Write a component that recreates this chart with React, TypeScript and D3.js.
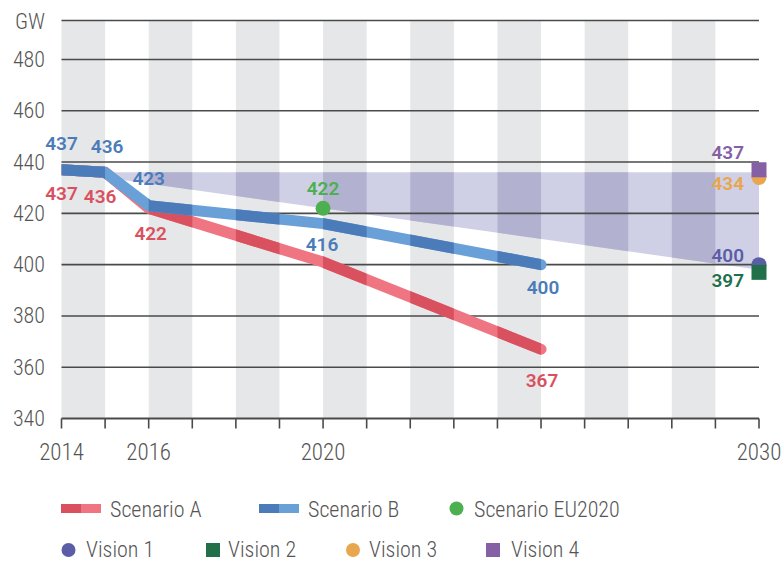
import React from "react";
import * as d3 from "d3";

// years on the axis and the data
const axisYears = d3.range(2014, 2031);
const yTicks = [340, 360, 380, 400, 420, 440, 460, 480];
const yearLabels = [2014, 2016, 2020, 2030];

const scenYears = [2014, 2015, 2016, 2020, 2025];
const scenarioA = [437, 436, 422, 401, 367];
const scenarioB = [437, 436, 423, 416, 400];
const eu2020 = { year: 2020, value: 422 };

// range of the visions for 2030 (shaded wedge)
const bandYears = [2015, 2030];
const bandTop = [436, 436];
const bandBottom = [434, 398];

const visionNames = ["Vision 1", "Vision 2", "Vision 3", "Vision 4"];
const vision2030 = [400, 397, 434, 437];

const W = 781;
const H = 562;
const FONT = "'Liberation Sans Narrow', 'Arial Narrow', 'Roboto Condensed', Roboto, sans-serif";
const LABEL_FONT = "Roboto, 'Liberation Sans', sans-serif";

const C = {
  redL: "#ee7581",
  redD: "#d9515f",
  blueL: "#6aa0d8",
  blueD: "#4b7cb9",
  bandL: "#cfd0e6",
  bandD: "#b2b2d0",
  gray: "#e6e7e8",
  green: "#4caf50",
  v1: "#5b5ea6",
  v2: "#21704a",
  v3: "#e8a64e",
  v4: "#8660a5",
  text: "#555555",
  grid: "#4a4a4a",
};

export default function App() {
  const x = d3.scaleLinear().domain([2014, 2030]).range([61.5, 759]);
  const y = d3.scaleLinear().domain([340, 480]).range([418.5, 59.5]);
  const top = 20.5;
  const bottom = y(340);

  const line = d3
    .line<number>()
    .x((_, i) => x(scenYears[i]))
    .y((d) => y(d));

  const area = d3
    .area<number>()
    .x((d) => x(d))
    .y0((_, i) => y(bandBottom[i]))
    .y1((_, i) => y(bandTop[i]));

  const grayYears = axisYears.filter((yr, i) => i % 2 === 0 && yr < 2030);

  const labelsA = [
    { i: 0, dx: 0, dy: 30 },
    { i: 1, dx: -5, dy: 31 },
    { i: 2, dx: 2, dy: 32 },
    { i: 4, dx: 1, dy: 38 },
  ];
  const labelsB = [
    { i: 0, dx: 0, dy: -20 },
    { i: 1, dx: 2, dy: -19 },
    { i: 2, dx: 0, dy: -21 },
    { i: 3, dx: -1, dy: 27 },
    { i: 4, dx: 2, dy: 29 },
  ];
  // vision label offsets from its marker
  const visionLabelDy = [-3, 15, 13, -11];
  const visionColors = [C.v1, C.v2, C.v3, C.v4];
  const visionShape = ["circle", "square", "circle", "square"];

  const drawLine = (vals: number[], light: string, dark: string) => (
    <g clipPath="url(#plotClip)">
      <path d={line(vals) || ""} fill="none" stroke={light} strokeWidth={11} strokeLinecap="round" strokeLinejoin="round" />
      <g clipPath="url(#bandClip)">
        <path d={line(vals) || ""} fill="none" stroke={dark} strokeWidth={11} strokeLinecap="round" strokeLinejoin="round" />
      </g>
    </g>
  );

  const marker = (shape: string, cx: number, cy: number, color: string, key?: any) =>
    shape === "circle" ? (
      <circle key={key} cx={cx} cy={cy} r={7.5} fill={color} />
    ) : (
      <rect key={key} x={cx - 7.5} y={cy - 7.5} width={15} height={15} fill={color} />
    );

  const legend1 = [
    { name: "Scenario A", kind: "line", light: C.redL, dark: C.redD, x: 61, tx: 110 },
    { name: "Scenario B", kind: "line", light: C.blueL, dark: C.blueD, x: 259, tx: 308 },
    { name: "Scenario EU2020", kind: "circle", light: C.green, dark: C.green, x: 456.5, tx: 474 },
  ];
  const legend2X = [68.5, 213, 353, 493];
  const legend2TX = [86, 228, 369, 511];

  return (
    <svg width={W} height={H} style={{ position: "absolute", left: 0, top: 0, background: "#fff" }}>
      <defs>
        <clipPath id="plotClip">
          <rect x={x(2014)} y={0} width={x(2030) - x(2014) + 10} height={bottom} />
        </clipPath>
        <clipPath id="bandClip">
          {grayYears.map((yr) => (
            <rect key={yr} x={x(yr)} y={top} width={x(yr + 1) - x(yr)} height={bottom - top} />
          ))}
        </clipPath>
      </defs>

      {/* alternating background bands */}
      {grayYears.map((yr) => (
        <rect key={yr} x={x(yr)} y={top} width={x(yr + 1) - x(yr)} height={bottom - top} fill={C.gray} />
      ))}

      {/* range of the visions */}
      <path d={area(bandYears) || ""} fill={C.bandL} />
      <g clipPath="url(#bandClip)">
        <path d={area(bandYears) || ""} fill={C.bandD} />
      </g>

      {/* grid */}
      {yTicks.slice(1).map((t) => (
        <line key={t} x1={x(2014)} x2={x(2030)} y1={y(t)} y2={y(t)} stroke={C.grid} strokeWidth={1.6} />
      ))}
      <line x1={x(2014)} x2={x(2030)} y1={top} y2={top} stroke={C.grid} strokeWidth={1.6} />
      <line x1={x(2014)} x2={x(2030)} y1={bottom} y2={bottom} stroke={C.grid} strokeWidth={1.8} />
      {axisYears.map((yr) => (
        <line key={yr} x1={x(yr)} x2={x(yr)} y1={bottom} y2={bottom + 10} stroke={C.grid} strokeWidth={1.6} />
      ))}

      {/* y labels */}
      <g fontFamily={FONT} fontWeight={300} fill={C.text}>
        {yTicks.map((t) => (
          <text key={t} x={45} y={y(t) + 7.5} textAnchor="end" fontSize={22}>
            {t}
          </text>
        ))}
        <text x={45} y={top + 8} textAnchor="end" fontSize={22}>
          GW
        </text>
        {yearLabels.map((yr) => (
          <text key={yr} x={x(yr)} y={bottom + 41} textAnchor="middle" fontSize={23}>
            {yr}
          </text>
        ))}
      </g>

      {/* scenario lines */}
      {drawLine(scenarioA, C.redL, C.redD)}
      {drawLine(scenarioB, C.blueL, C.blueD)}

      {/* markers */}
      <circle cx={x(eu2020.year)} cy={y(eu2020.value)} r={7.5} fill={C.green} />
      {[0, 1, 2, 3].map((i) => marker(visionShape[i], x(2030), y(vision2030[i]), visionColors[i], i))}

      {/* data labels */}
      <g fontFamily={LABEL_FONT} fontSize={19} fontWeight={600} textAnchor="middle">
        {labelsA.map((l) => (
          <text key={"a" + l.i} x={x(scenYears[l.i]) + l.dx} y={y(scenarioA[l.i]) + l.dy} fill={C.redD}>
            {scenarioA[l.i]}
          </text>
        ))}
        {labelsB.map((l) => (
          <text key={"b" + l.i} x={x(scenYears[l.i]) + l.dx} y={y(scenarioB[l.i]) + l.dy} fill={C.blueD}>
            {scenarioB[l.i]}
          </text>
        ))}
        <text x={x(eu2020.year)} y={y(eu2020.value) - 13} fill={C.green}>
          {eu2020.value}
        </text>
        {vision2030.map((v, i) => (
          <text key={"v" + i} x={x(2030) - 15} y={y(v) + visionLabelDy[i]} textAnchor="end" fill={visionColors[i]}>
            {v}
          </text>
        ))}
      </g>

      {/* legend */}
      <g fontFamily={FONT} fontSize={22} fontWeight={300} fill={C.text}>
        {legend1.map((l) =>
          l.kind === "line" ? (
            <g key={l.name}>
              <rect x={l.x} y={504} width={20} height={9} fill={l.dark} />
              <rect x={l.x + 20} y={504} width={20} height={9} fill={l.light} />
              <text x={l.tx} y={517}>{l.name}</text>
            </g>
          ) : (
            <g key={l.name}>
              <circle cx={l.x} cy={508.5} r={7} fill={l.light} />
              <text x={l.tx} y={517}>{l.name}</text>
            </g>
          )
        )}
        {visionNames.map((n, i) => (
          <g key={n}>
            {visionShape[i] === "circle" ? (
              <circle cx={legend2X[i]} cy={550} r={7} fill={visionColors[i]} />
            ) : (
              <rect x={legend2X[i] - 7} y={543} width={14} height={14} fill={visionColors[i]} />
            )}
            <text x={legend2TX[i]} y={557}>{n}</text>
          </g>
        ))}
      </g>
    </svg>
  );
}
